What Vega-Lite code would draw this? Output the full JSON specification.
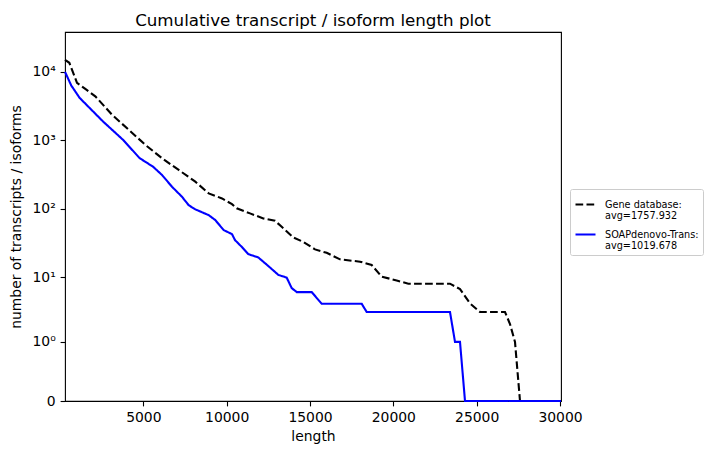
{
  "$schema": "https://vega.github.io/schema/vega-lite/v6.json",
  "width": 496,
  "height": 369,
  "autosize": {"type": "none"},
  "padding": {"left": 65, "top": 32, "right": 149, "bottom": 54},
  "background": "white",
  "title": {
    "text": "Cumulative transcript / isoform length plot",
    "font": "DejaVu Sans",
    "fontSize": 16.7,
    "fontWeight": "normal",
    "color": "black",
    "anchor": "middle",
    "baseline": "alphabetic",
    "offset": 8,
    "dy": 19
  },
  "data": {
    "values": [
      {"series": "Gene database:|avg=1757.932", "length": 300, "count": 14800},
      {"series": "Gene database:|avg=1757.932", "length": 560, "count": 13400},
      {"series": "Gene database:|avg=1757.932", "length": 1020, "count": 6840},
      {"series": "Gene database:|avg=1757.932", "length": 1518, "count": 5590},
      {"series": "Gene database:|avg=1757.932", "length": 2118, "count": 4360},
      {"series": "Gene database:|avg=1757.932", "length": 3120, "count": 2350},
      {"series": "Gene database:|avg=1757.932", "length": 4122, "count": 1420},
      {"series": "Gene database:|avg=1757.932", "length": 5118, "count": 857},
      {"series": "Gene database:|avg=1757.932", "length": 6120, "count": 547},
      {"series": "Gene database:|avg=1757.932", "length": 7122, "count": 369},
      {"series": "Gene database:|avg=1757.932", "length": 8118, "count": 249},
      {"series": "Gene database:|avg=1757.932", "length": 8922, "count": 168},
      {"series": "Gene database:|avg=1757.932", "length": 9720, "count": 142},
      {"series": "Gene database:|avg=1757.932", "length": 10320, "count": 117},
      {"series": "Gene database:|avg=1757.932", "length": 10602, "count": 102},
      {"series": "Gene database:|avg=1757.932", "length": 11400, "count": 86},
      {"series": "Gene database:|avg=1757.932", "length": 12198, "count": 72.6},
      {"series": "Gene database:|avg=1757.932", "length": 12900, "count": 67},
      {"series": "Gene database:|avg=1757.932", "length": 13302, "count": 54.7},
      {"series": "Gene database:|avg=1757.932", "length": 14000, "count": 38.3},
      {"series": "Gene database:|avg=1757.932", "length": 14598, "count": 33},
      {"series": "Gene database:|avg=1757.932", "length": 15300, "count": 25.6},
      {"series": "Gene database:|avg=1757.932", "length": 16000, "count": 22.8},
      {"series": "Gene database:|avg=1757.932", "length": 16800, "count": 18.3},
      {"series": "Gene database:|avg=1757.932", "length": 18000, "count": 16.9},
      {"series": "Gene database:|avg=1757.932", "length": 18700, "count": 15.1},
      {"series": "Gene database:|avg=1757.932", "length": 19300, "count": 10.2},
      {"series": "Gene database:|avg=1757.932", "length": 20200, "count": 8.9},
      {"series": "Gene database:|avg=1757.932", "length": 20900, "count": 8},
      {"series": "Gene database:|avg=1757.932", "length": 23400, "count": 8},
      {"series": "Gene database:|avg=1757.932", "length": 24000, "count": 6.65},
      {"series": "Gene database:|avg=1757.932", "length": 24600, "count": 4.05},
      {"series": "Gene database:|avg=1757.932", "length": 25200, "count": 3},
      {"series": "Gene database:|avg=1757.932", "length": 26700, "count": 3},
      {"series": "Gene database:|avg=1757.932", "length": 27000, "count": 1.95},
      {"series": "Gene database:|avg=1757.932", "length": 27300, "count": 1},
      {"series": "Gene database:|avg=1757.932", "length": 27600, "count": 0},
      {"series": "Gene database:|avg=1757.932", "length": 30060, "count": 0},
      {"series": "SOAPdenovo-Trans:|avg=1019.678", "length": 300, "count": 9900},
      {"series": "SOAPdenovo-Trans:|avg=1019.678", "length": 678, "count": 6240},
      {"series": "SOAPdenovo-Trans:|avg=1019.678", "length": 1182, "count": 4120},
      {"series": "SOAPdenovo-Trans:|avg=1019.678", "length": 1782, "count": 2940},
      {"series": "SOAPdenovo-Trans:|avg=1019.678", "length": 2580, "count": 1875},
      {"series": "SOAPdenovo-Trans:|avg=1019.678", "length": 3780, "count": 1014},
      {"series": "SOAPdenovo-Trans:|avg=1019.678", "length": 4782, "count": 547},
      {"series": "SOAPdenovo-Trans:|avg=1019.678", "length": 5580, "count": 412},
      {"series": "SOAPdenovo-Trans:|avg=1019.678", "length": 6120, "count": 312},
      {"series": "SOAPdenovo-Trans:|avg=1019.678", "length": 6720, "count": 210},
      {"series": "SOAPdenovo-Trans:|avg=1019.678", "length": 7320, "count": 150},
      {"series": "SOAPdenovo-Trans:|avg=1019.678", "length": 7722, "count": 113},
      {"series": "SOAPdenovo-Trans:|avg=1019.678", "length": 8118, "count": 98.4},
      {"series": "SOAPdenovo-Trans:|avg=1019.678", "length": 8922, "count": 81},
      {"series": "SOAPdenovo-Trans:|avg=1019.678", "length": 9318, "count": 68.6},
      {"series": "SOAPdenovo-Trans:|avg=1019.678", "length": 9822, "count": 49},
      {"series": "SOAPdenovo-Trans:|avg=1019.678", "length": 10320, "count": 42.8},
      {"series": "SOAPdenovo-Trans:|avg=1019.678", "length": 10500, "count": 35},
      {"series": "SOAPdenovo-Trans:|avg=1019.678", "length": 10902, "count": 27.9},
      {"series": "SOAPdenovo-Trans:|avg=1019.678", "length": 11298, "count": 21.8},
      {"series": "SOAPdenovo-Trans:|avg=1019.678", "length": 11898, "count": 19.5},
      {"series": "SOAPdenovo-Trans:|avg=1019.678", "length": 12498, "count": 14.6},
      {"series": "SOAPdenovo-Trans:|avg=1019.678", "length": 13098, "count": 10.8},
      {"series": "SOAPdenovo-Trans:|avg=1019.678", "length": 13602, "count": 9.84},
      {"series": "SOAPdenovo-Trans:|avg=1019.678", "length": 13902, "count": 6.88},
      {"series": "SOAPdenovo-Trans:|avg=1019.678", "length": 14202, "count": 6},
      {"series": "SOAPdenovo-Trans:|avg=1019.678", "length": 15102, "count": 6},
      {"series": "SOAPdenovo-Trans:|avg=1019.678", "length": 15702, "count": 4},
      {"series": "SOAPdenovo-Trans:|avg=1019.678", "length": 18102, "count": 4},
      {"series": "SOAPdenovo-Trans:|avg=1019.678", "length": 18402, "count": 3},
      {"series": "SOAPdenovo-Trans:|avg=1019.678", "length": 23400, "count": 3},
      {"series": "SOAPdenovo-Trans:|avg=1019.678", "length": 23700, "count": 1},
      {"series": "SOAPdenovo-Trans:|avg=1019.678", "length": 24000, "count": 1},
      {"series": "SOAPdenovo-Trans:|avg=1019.678", "length": 24300, "count": 0},
      {"series": "SOAPdenovo-Trans:|avg=1019.678", "length": 30060, "count": 0}
    ]
  },
  "mark": {"type": "line", "strokeWidth": 2.1, "clip": false},
  "encoding": {
    "x": {
      "field": "length",
      "type": "quantitative",
      "scale": {"domain": [300, 30060], "nice": false, "zero": false},
      "axis": {
        "title": "length",
        "values": [5000, 10000, 15000, 20000, 25000, 30000],
        "format": "d",
        "titlePadding": 5
      }
    },
    "y": {
      "field": "count",
      "type": "quantitative",
      "scale": {"type": "symlog", "constant": 0.16, "domain": [0, 37600], "nice": false},
      "axis": {
        "title": "number of transcripts / isoforms",
        "values": [0, 1, 10, 100, 1000, 10000],
        "labelExpr": "datum.value === 0 ? '0' : datum.value === 1 ? '10⁰' : datum.value === 10 ? '10¹' : datum.value === 100 ? '10²' : datum.value === 1000 ? '10³' : '10⁴'",
        "titlePadding": 8
      }
    },
    "color": {
      "field": "series",
      "type": "nominal",
      "scale": {
        "domain": ["Gene database:|avg=1757.932", "SOAPdenovo-Trans:|avg=1019.678"],
        "range": ["black", "blue"]
      },
      "legend": {"title": null, "labelExpr": "split(datum.label, '|')"}
    },
    "strokeDash": {
      "field": "series",
      "type": "nominal",
      "scale": {
        "domain": ["Gene database:|avg=1757.932", "SOAPdenovo-Trans:|avg=1019.678"],
        "range": [[7.7, 3.3], [1, 0]]
      },
      "legend": {"title": null, "labelExpr": "split(datum.label, '|')"}
    }
  },
  "config": {
    "font": "DejaVu Sans",
    "view": {"stroke": "black", "strokeWidth": 1.1},
    "axis": {
      "domain": false,
      "grid": false,
      "ticks": true,
      "tickColor": "black",
      "tickSize": 4.9,
      "tickWidth": 1.1,
      "labelColor": "black",
      "labelFont": "DejaVu Sans",
      "labelFontSize": 13.9,
      "labelPadding": 4.9,
      "labelFlush": false,
      "labelOverlap": false,
      "titleFont": "DejaVu Sans",
      "titleFontSize": 13.9,
      "titleFontWeight": "normal",
      "titleColor": "black"
    },
    "legend": {
      "orient": "none",
      "legendX": 505,
      "legendY": 157,
      "symbolType": "stroke",
      "symbolSize": 400,
      "symbolStrokeWidth": 2.1,
      "labelFont": "DejaVu Sans",
      "labelFontSize": 9.7,
      "labelColor": "black",
      "labelLineHeight": 11.5,
      "labelOffset": 8,
      "labelLimit": 200,
      "padding": 4,
      "rowPadding": 2,
      "strokeColor": "#cccccc",
      "fillColor": "white",
      "cornerRadius": 2
    }
  }
}
